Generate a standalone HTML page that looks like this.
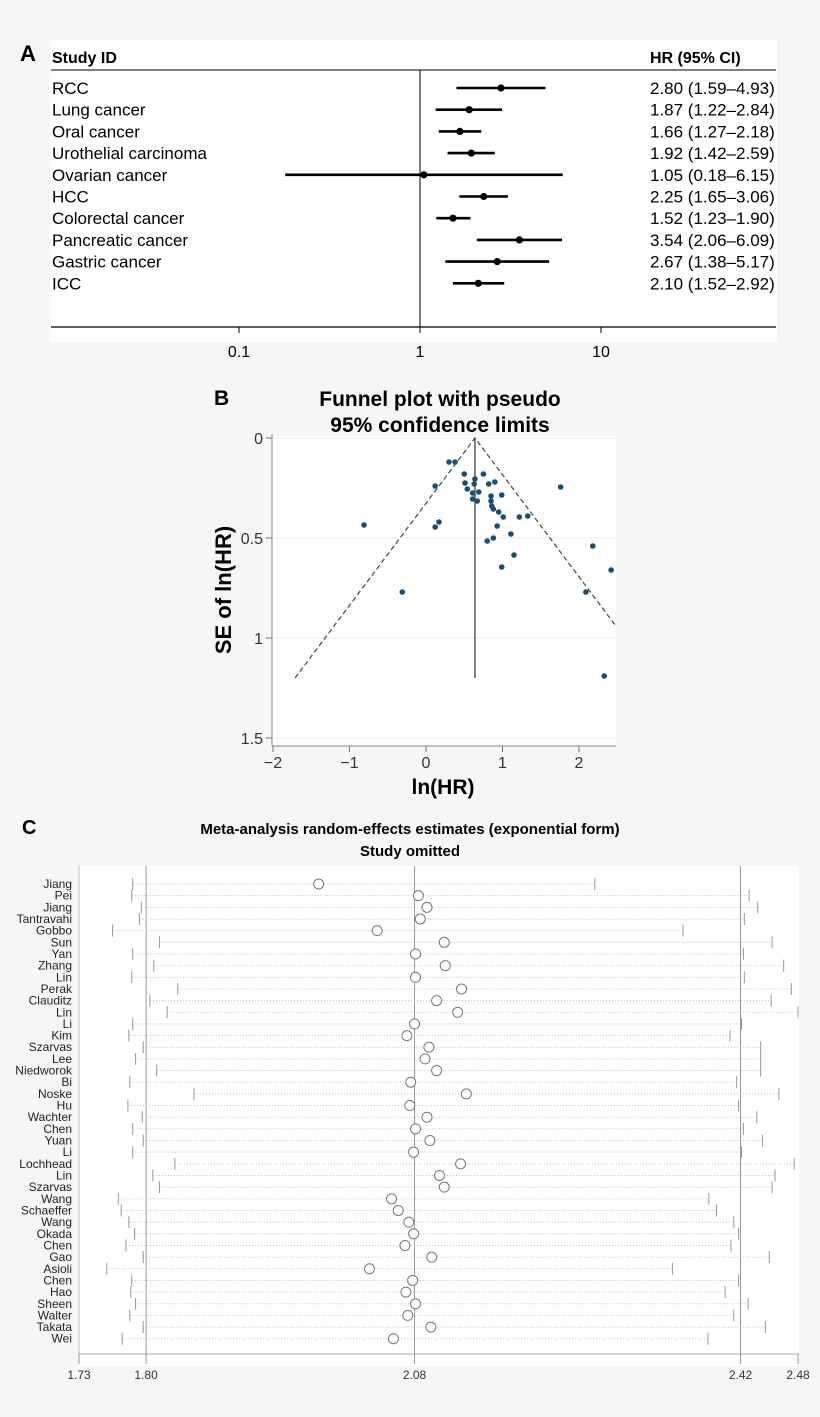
<!DOCTYPE html>
<html><head><meta charset="utf-8"><style>
body{margin:0;background:#f6f6f6;}
svg{display:block;font-family:"Liberation Sans",Arial,sans-serif;}
</style></head><body>
<svg id="fig" width="820" height="1417" viewBox="0 0 820 1417">
<rect x="50" y="40" width="727" height="302" fill="#fff"/>
<rect x="272" y="436" width="344" height="310" fill="#fff"/>
<rect x="79" y="866" width="720" height="500" fill="#fff"/>
<g id="pa"></g>
<g id="pb"></g>
<g id="pc"></g>
</svg>
<script>
// ---------- Panel A data ----------
const aStudies=["RCC","Lung cancer","Oral cancer","Urothelial carcinoma","Ovarian cancer","HCC","Colorectal cancer","Pancreatic cancer","Gastric cancer","ICC"];
const aHR=[2.80,1.87,1.66,1.92,1.05,2.25,1.52,3.54,2.67,2.10];
const aLo=[1.59,1.22,1.27,1.42,0.18,1.65,1.23,2.06,1.38,1.52];
const aHi=[4.93,2.84,2.18,2.59,6.15,3.06,1.90,6.09,5.17,2.92];
const aTicks=[0.1,1,10];
// ---------- Panel B data ----------
const bLnHR=[0.30,0.38,0.50,0.75,0.12,0.51,0.54,0.64,0.63,0.82,0.90,1.76,0.61,0.69,0.85,0.99,0.61,0.67,0.85,0.86,0.88,0.95,1.01,1.22,1.33,-0.81,0.17,0.12,0.93,1.11,0.88,0.80,2.18,1.15,0.99,2.42,-0.31,2.09,2.33];
const bSE=[0.12,0.12,0.18,0.18,0.24,0.225,0.255,0.205,0.23,0.23,0.22,0.245,0.275,0.27,0.29,0.285,0.305,0.315,0.315,0.34,0.355,0.37,0.395,0.395,0.39,0.435,0.42,0.445,0.44,0.48,0.50,0.515,0.54,0.585,0.645,0.66,0.77,0.77,1.19];
const bPooled=[0.64];
const bXTicks=[-2,-1,0,1,2];
const bYTicks=[0,0.5,1,1.5];
// ---------- Panel C data ----------
const cNames=["Jiang","Pei","Jiang","Tantravahi","Gobbo","Sun","Yan","Zhang","Lin","Perak","Clauditz","Lin","Li","Kim","Szarvas","Lee","Niedworok","Bi","Noske","Hu","Wachter","Chen","Yuan","Li","Lochhead","Lin","Szarvas","Wang","Schaeffer","Wang","Okada","Chen","Gao","Asioli","Chen","Hao","Sheen","Walter","Takata","Wei"];
const cEst=[1.980,2.084,2.093,2.086,2.041,2.111,2.081,2.112,2.081,2.129,2.103,2.125,2.080,2.072,2.095,2.091,2.103,2.076,2.134,2.075,2.093,2.081,2.096,2.079,2.128,2.106,2.111,2.056,2.063,2.074,2.079,2.070,2.098,2.033,2.078,2.071,2.081,2.073,2.097,2.058];
const cLo=[1.786,1.785,1.795,1.793,1.765,1.814,1.786,1.808,1.785,1.833,1.804,1.822,1.786,1.782,1.797,1.789,1.811,1.783,1.850,1.781,1.796,1.786,1.797,1.786,1.830,1.807,1.814,1.771,1.774,1.782,1.788,1.779,1.797,1.759,1.785,1.784,1.789,1.783,1.797,1.775];
const cHi=[2.268,2.429,2.438,2.424,2.360,2.453,2.423,2.465,2.424,2.473,2.452,2.480,2.421,2.409,2.441,2.441,2.441,2.416,2.460,2.418,2.437,2.423,2.443,2.421,2.476,2.456,2.453,2.387,2.395,2.413,2.418,2.410,2.450,2.349,2.418,2.404,2.428,2.413,2.446,2.386];
const cTicks=[1.73,1.80,2.08,2.42,2.48];
const cRefs=[1.80,2.08,2.42];

const NS="http://www.w3.org/2000/svg";
function mk(parent,tag,attrs,text){const e=document.createElementNS(NS,tag);for(const k in attrs)e.setAttribute(k,attrs[k]);if(text!==undefined)e.textContent=text;parent.appendChild(e);return e;}
const fig=document.getElementById('fig');

// ===== Panel A =====
const pa=document.getElementById('pa');
const ax=v=>420+181*Math.log10(v);
const ay=i=>88+i*21.7;
let t;
t=mk(fig,'text',{x:20,y:61,'font-size':22,'font-weight':'bold'},'A');

t=mk(pa,'text',{x:52,y:63,'font-size':16,'font-weight':'bold'},'Study ID');

t=mk(pa,'text',{x:650,y:63,'font-size':16,'font-weight':'bold'},'HR (95% CI)');

t=mk(pa,'line',{x1:51,x2:776,y1:70,y2:70,stroke:'#000','stroke-width':1});

t=mk(pa,'line',{x1:ax(1),x2:ax(1),y1:70,y2:327,stroke:'#000','stroke-width':1});

t=mk(pa,'line',{x1:51,x2:776,y1:327,y2:327,stroke:'#000','stroke-width':1.2});

aTicks.forEach(v=>{
  t=mk(pa,'line',{x1:ax(v),x2:ax(v),y1:327,y2:333,stroke:'#000'});
  
  t=mk(pa,'text',{x:ax(v),y:357,'font-size':16,'text-anchor':'middle'},String(v));
  
});
aStudies.forEach((s,i)=>{
  const y=ay(i);
  t=mk(pa,'text',{x:52,y:y+6,'font-size':17},s);
  
  t=mk(pa,'line',{x1:ax(aLo[i]),x2:ax(aHi[i]),y1:y,y2:y,stroke:'#000','stroke-width':2.6});
  
  t=mk(pa,'circle',{cx:ax(aHR[i]),cy:y,r:3.6,fill:'#000'});
  
  t=mk(pa,'text',{x:650,y:y+6,'font-size':17},aHR[i].toFixed(2)+' ('+aLo[i].toFixed(2)+'–'+aHi[i].toFixed(2)+')');
  
});

// ===== Panel B =====
const pb=document.getElementById('pb');
const bx=v=>426+76.5*v;
const by=v=>438+200*v;
t=mk(fig,'text',{x:214,y:405,'font-size':21,'font-weight':'bold'},'B');

t=mk(pb,'text',{x:440,y:406,'font-size':21,'font-weight':'bold','text-anchor':'middle'},'Funnel plot with pseudo');

t=mk(pb,'text',{x:440,y:432,'font-size':21,'font-weight':'bold','text-anchor':'middle'},'95% confidence limits');

bYTicks.forEach(v=>{
  t=mk(pb,'line',{x1:272,x2:616,y1:by(v),y2:by(v),stroke:'#eee','stroke-width':1});
  
  t=mk(pb,'line',{x1:266,x2:272,y1:by(v),y2:by(v),stroke:'#777'});
  
  t=mk(pb,'text',{x:263,y:by(v)+6,'font-size':16,'text-anchor':'end',fill:'#333'},String(v));
  
});
bXTicks.forEach(v=>{
  t=mk(pb,'line',{x1:bx(v),x2:bx(v),y1:746,y2:752,stroke:'#777'});
  
  t=mk(pb,'text',{x:bx(v),y:768,'font-size':16,'text-anchor':'middle',fill:'#333'},v<0?'−'+(-v):String(v));
  
});
t=mk(pb,'line',{x1:272,x2:272,y1:434,y2:746,stroke:'#888'});

t=mk(pb,'line',{x1:272,x2:616,y1:746,y2:746,stroke:'#888'});

t=mk(pb,'text',{x:443,y:794,'font-size':21,'font-weight':'bold','text-anchor':'middle'},'ln(HR)');

t=mk(pb,'text',{x:0,y:0,'font-size':22,'font-weight':'bold','text-anchor':'middle',transform:'translate(231,590) rotate(-90)'},'SE of ln(HR)');

const p=bPooled[0], seMax=1.2;
const clip=mk(pb,'clipPath',{id:'bclip'});mk(clip,'rect',{x:272,y:430,width:344,height:316});
t=mk(pb,'polyline',{points:`${bx(p-1.96*seMax)},${by(seMax)} ${bx(p)},${by(0)} ${bx(p+1.96*seMax)},${by(seMax)}`,fill:'none',stroke:'#444','stroke-width':1.2,'stroke-dasharray':'5,3','clip-path':'url(#bclip)'});

t=mk(pb,'line',{x1:bx(p),x2:bx(p),y1:by(0),y2:by(seMax),stroke:'#333','stroke-width':1.2});

bLnHR.forEach((v,i)=>{
  t=mk(pb,'circle',{cx:bx(v),cy:by(bSE[i]),r:2.8,fill:'#1b4f72'});
  
});

// ===== Panel C =====
const pc=document.getElementById('pc');
const cx=v=>79+(v-1.73)*958.7;
const cy=i=>884+i*11.66;
t=mk(fig,'text',{x:22,y:834,'font-size':20,'font-weight':'bold'},'C');

t=mk(pc,'text',{x:410,y:834,'font-size':15,'font-weight':'bold','text-anchor':'middle'},'Meta-analysis random-effects estimates (exponential form)');

t=mk(pc,'text',{x:410,y:856,'font-size':15,'font-weight':'bold','text-anchor':'middle'},'Study omitted');

t=mk(pc,'line',{x1:79,x2:79,y1:866,y2:1354,stroke:'#bbb'});

t=mk(pc,'line',{x1:79,x2:799,y1:1354,y2:1354,stroke:'#bbb','stroke-width':1.2});

cRefs.forEach(v=>{
  t=mk(pc,'line',{x1:cx(v),x2:cx(v),y1:866,y2:1354,stroke:'#999'});
  
});
cTicks.forEach(v=>{
  t=mk(pc,'line',{x1:cx(v),x2:cx(v),y1:1354,y2:1364,stroke:'#999'});
  
  t=mk(pc,'text',{x:cx(v),y:1379,'font-size':12,'text-anchor':'middle',fill:'#333'},v.toFixed(2));
  
});
cNames.forEach((n,i)=>{
  const y=cy(i);
  t=mk(pc,'text',{x:72,y:y+4,'font-size':12,'text-anchor':'end',fill:'#222'},n);
  
  t=mk(pc,'line',{x1:cx(cLo[i]),x2:cx(cHi[i]),y1:y,y2:y,stroke:'#bbb','stroke-width':1,'stroke-dasharray':'1,2'});
  
  t=mk(pc,'line',{x1:cx(cLo[i]),x2:cx(cLo[i]),y1:y-6,y2:y+6,stroke:'#999'});
  
  t=mk(pc,'line',{x1:cx(cHi[i]),x2:cx(cHi[i]),y1:y-6,y2:y+6,stroke:'#999'});
  
  t=mk(pc,'circle',{cx:cx(cEst[i]),cy:y,r:5,fill:'#fff',stroke:'#777','stroke-width':1});
  
});
</script>
</body></html>
